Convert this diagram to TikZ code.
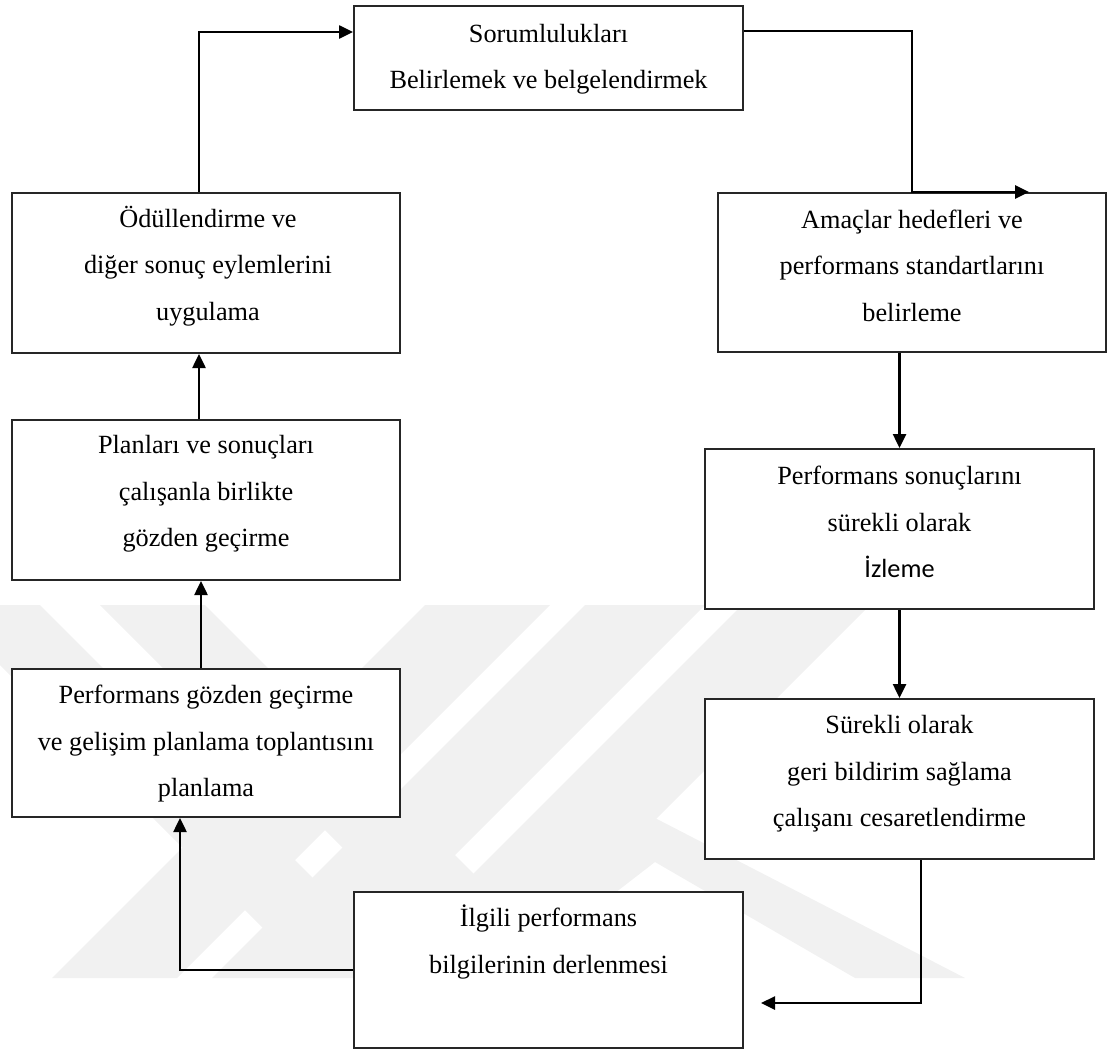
\documentclass[tikz,border=0pt]{standalone}
\usepackage{fontspec}
\setmainfont{Liberation Serif}
\newfontfamily\calibrifont{Carlito}
\usetikzlibrary{arrows.meta}
\begin{document}
\begin{tikzpicture}[x=0.75pt,y=-0.75pt,
  box/.style={draw=black!85,line width=1.5pt,fill=white,inner sep=0pt},
  txt/.style={align=center,inner sep=0pt,font=\fontsize{19.7}{34.9}\selectfont},
  arr/.style={line width=1.9pt,-{Triangle[length=10.5pt,width=9.75pt]}},
  wm/.style={fill=gray!11,draw=none}]
\useasboundingbox (0,0) rectangle (1109,1053);
% faint watermark
\fill[wm] (-60,605) -- (40,605) -- (413,978) -- (313,978) -- cycle;
\fill[wm] (100,605) -- (205,605) -- (578,978) -- (473,978) -- cycle;
\fill[wm] (425,605) -- (550,605) -- (177,978) -- (52,978) -- cycle;
\fill[wm] (585,605) -- (705,605) -- (332,978) -- (212,978) -- cycle;
\fill[wm] (742,605) -- (870,605) -- (497,978) -- (369,978) -- cycle;
\fill[wm] (395,978) -- (655,818) -- (965,978) -- (855,978) -- (655,862) -- (505,978) -- cycle;
% boxes
\node[box,minimum width=291.75pt,minimum height=78pt] (sor) at (548.5,58) {};
\node[box,minimum width=291pt,minimum height=120pt] (odul) at (206,273) {};
\node[box,minimum width=291pt,minimum height=119.25pt] (amac) at (912,272.5) {};
\node[box,minimum width=291pt,minimum height=120pt] (plan) at (206,500) {};
\node[box,minimum width=291.75pt,minimum height=120pt] (psonuc) at (899.5,529) {};
\node[box,minimum width=291pt,minimum height=111pt] (pgoz) at (206,743) {};
\node[box,minimum width=291.75pt,minimum height=120pt] (surek) at (899.5,779) {};
\node[box,minimum width=291.75pt,minimum height=117pt] (ilgili) at (548.5,970) {};
% texts
\node[txt] (sort) at (548.5,59) {Sorumlulukları\\Belirlemek ve belgelendirmek};
\node[txt] (odult) at (208,266) {Ödüllendirme ve\\diğer sonuç eylemlerini\\uygulama};
\node[txt] (amact) at (912,265.5) {Amaçlar hedefleri ve\\performans standartlarını\\belirleme};
\node[txt] (plant) at (206,494) {Planları ve sonuçları\\çalışanla birlikte\\gözden geçirme};
\node[txt] (psonuct) at (899.5,522) {Performans sonuçlarını\\sürekli olarak\\{\calibrifont İzleme}};
\node[txt] (pgozt) at (206,744) {Performans gözden geçirme\\ve gelişim planlama toplantısını\\planlama};
\node[txt] (surekt) at (899.5,774) {Sürekli olarak\\geri bildirim sağlama\\çalışanı cesaretlendirme};
\node[txt] (ilgilit) at (548.5,942) {İlgili performans\\bilgilerinin derlenmesi};
% connectors
\draw[arr] ([xshift=-5.25pt]odul.north) |- ([yshift=19.5pt]sor.west);
\draw[arr] ([yshift=20.25pt]sor.east) -| (amac.north) -- ([xshift=87.75pt]amac.north);
\draw[arr] (amac.south -| psonuc.north) -- (psonuc.north);
\draw[arr] (psonuc.south) -- (surek.north);
\draw[arr] ([xshift=16.1pt]surek.south) |- ([xshift=12.75pt,yshift=-24.75pt]ilgili.east);
\draw[arr] (ilgili.west) -| ([xshift=-19.5pt]pgoz.south);
\draw[arr] ([xshift=-3.75pt]pgoz.north) -- ([xshift=-3.75pt]plan.south);
\draw[arr] ([xshift=-5.25pt]plan.north) -- ([xshift=-5.25pt]odul.south);
\end{tikzpicture}
\end{document}
